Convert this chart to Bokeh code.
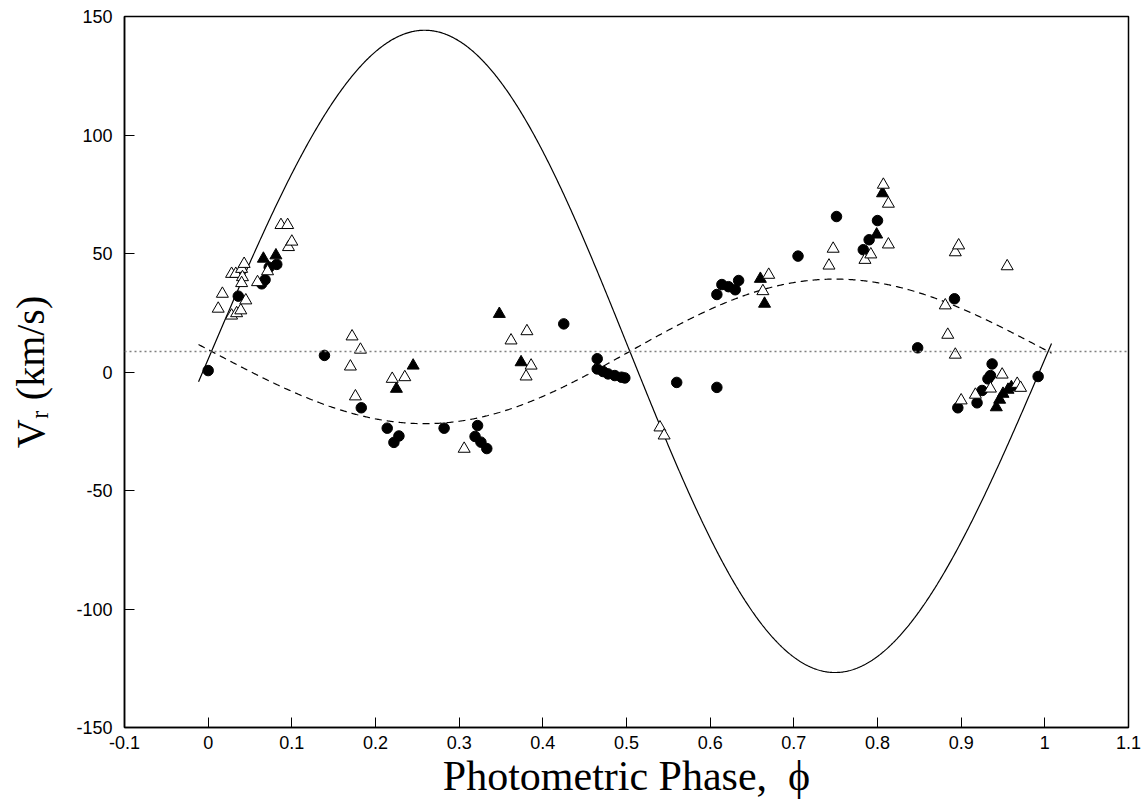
import numpy as np
from bokeh.plotting import figure
from bokeh.models import Range1d, FixedTicker, CustomJSTickFormatter, Span
from bokeh.embed import file_html
from bokeh.resources import INLINE

# ---- data ----
circle_phase = [0.000, 0.036, 0.064, 0.068, 0.073, 0.082, 0.139, 0.183, 0.214, 0.222,
                0.228, 0.282, 0.319, 0.322, 0.326, 0.333, 0.425, 0.465, 0.465, 0.472,
                0.478, 0.486, 0.494, 0.498, 0.560, 0.608, 0.608, 0.614, 0.622, 0.630,
                0.634, 0.705, 0.751, 0.783, 0.790, 0.800, 0.848, 0.892, 0.896, 0.919,
                0.925, 0.932, 0.935, 0.937, 0.992]
circle_vr = [0.6, 32.0, 37.2, 38.9, 44.2, 45.4, 7.0, -15.1, -23.7, -29.7,
             -27.0, -23.7, -27.2, -22.6, -29.6, -32.3, 20.3, 5.6, 1.3, 0.2,
             -0.8, -1.5, -2.2, -2.5, -4.4, -6.5, 32.7, 36.9, 36.0, 34.7,
             38.6, 48.9, 65.6, 51.6, 55.8, 63.9, 10.2, 30.9, -15.1, -13.0,
             -7.8, -2.9, -1.5, 3.4, -1.9]

ftri_phase = [0.066, 0.081, 0.225, 0.245, 0.348, 0.374, 0.660, 0.665, 0.799, 0.806,
              0.942, 0.946, 0.950, 0.956, 0.960]
ftri_vr = [47.8, 49.2, -7.1, 2.7, 24.5, 4.1, 39.3, 28.8, 58.0, 75.4,
           -14.9, -11.7, -9.2, -7.5, -6.4]

otri_phase = [0.012, 0.017, 0.028, 0.034, 0.039, 0.028, 0.033, 0.040, 0.043, 0.041,
              0.040, 0.045, 0.059, 0.071, 0.087, 0.095, 0.096, 0.100, 0.172, 0.170,
              0.182, 0.176, 0.220, 0.235, 0.306, 0.362, 0.381, 0.386, 0.380, 0.540,
              0.545, 0.663, 0.670, 0.742, 0.747, 0.785, 0.792, 0.807, 0.813, 0.813,
              0.881, 0.884, 0.893, 0.893, 0.897, 0.900, 0.917, 0.935, 0.949, 0.955,
              0.967, 0.971]
otri_vr = [26.7, 33.0, 23.8, 24.8, 26.0, 41.4, 41.4, 43.5, 45.6, 40.0,
           37.5, 30.2, 37.9, 42.5, 62.0, 62.0, 52.7, 55.0, 15.0, 2.3,
           9.4, -10.3, -2.9, -2.2, -32.4, 13.3, 17.2, 2.7, -1.9, -23.4,
           -26.8, 34.1, 41.0, 44.9, 52.0, 47.3, 49.6, 79.0, 71.0, 53.8,
           28.1, 15.7, 7.3, 50.5, 53.4, -12.0, -9.6, -7.0, -1.1, 44.6,
           -5.0, -6.7]

# orbital solution drawn in the reference
gamma = 8.7        # systemic velocity (dotted line)
K1 = 135.5         # primary semi-amplitude (solid)
K2 = 30.5          # secondary semi-amplitude (dashed)
ecc = 0.015        # small eccentricity
omega = np.pi / 2  # argument of periastron
phi_peri = 0.504   # phase of periastron
curve_start, curve_end = -0.0115, 1.008

x_ticks = [-0.1, 0.0, 0.1, 0.2, 0.3, 0.4, 0.5, 0.6, 0.7, 0.8, 0.9, 1.0, 1.1]
y_ticks = [-150, -100, -50, 0, 50, 100, 150]
x_title = "Photometric Phase,\u00a0\u00a0\u03d5"
y_title = "V\u1d63 (km/s)"

# ---- figure ----
p = figure(width=1145, height=809, x_range=Range1d(-0.1, 1.1), y_range=Range1d(-150, 150),
           output_backend="svg", toolbar_location=None,
           min_border_left=124, min_border_right=17, min_border_top=16, min_border_bottom=82)
p.xgrid.visible = False
p.ygrid.visible = False
p.background_fill_color = "white"
p.border_fill_color = "white"
p.outline_line_color = "black"
p.outline_line_width = 1.5

for ax in (p.xaxis, p.yaxis):
    ax.major_tick_in = 10
    ax.major_tick_out = 0
    ax.minor_tick_line_color = None
    ax.axis_line_color = "black"
    ax.axis_line_width = 1.5
    ax.major_tick_line_color = "black"
    ax.major_tick_line_width = 1
    ax.major_label_text_font = "Liberation Sans"
    ax.major_label_text_font_size = "18px"
    ax.major_label_text_color = "black"
    ax.axis_label_text_font = "Liberation Serif"
    ax.axis_label_text_font_size = "42px"
    ax.axis_label_text_font_style = "normal"
    ax.axis_label_text_color = "black"

p.yaxis.axis_label_text_font_size = "40px"
p.xaxis.ticker = FixedTicker(ticks=x_ticks)
p.yaxis.ticker = FixedTicker(ticks=y_ticks)
p.xaxis.formatter = CustomJSTickFormatter(code="return (Math.round(tick*10)/10).toString();")
p.yaxis.formatter = CustomJSTickFormatter(code="return Math.round(tick).toString();")
p.xaxis.major_label_standoff = 8
p.yaxis.major_label_standoff = 12
p.xaxis.axis_label = x_title
p.yaxis.axis_label = y_title
p.xaxis.axis_label_standoff = 1
p.yaxis.axis_label_standoff = 20

# systemic velocity
p.add_layout(Span(location=gamma, dimension="width", line_color="#808080",
                  line_dash="2 3", line_width=1.5))

# model curves (Keplerian)
ph = np.linspace(curve_start, curve_end, 1000)
M = 2 * np.pi * (ph - phi_peri)
E = M.copy()
for _ in range(30):
    E = M + ecc * np.sin(E)
nu = 2 * np.arctan2(np.sqrt(1 + ecc) * np.sin(E / 2), np.sqrt(1 - ecc) * np.cos(E / 2))
shape = np.cos(nu + omega) + ecc * np.cos(omega)
p.line(ph, gamma + K1 * shape, line_color="black", line_width=1.2)
p.line(ph, gamma - K2 * shape, line_color="black", line_width=1.2, line_dash="7 5")

# data
p.scatter(circle_phase, circle_vr, marker="circle", size=10.5, fill_color="black", line_color="black")
p.scatter(ftri_phase, ftri_vr, marker="triangle", size=12, fill_color="black", line_color="black")
p.scatter(otri_phase, otri_vr, marker="triangle", size=12, fill_color="white", line_color="black", line_width=1)

open("out.html", "w").write(file_html(p, INLINE))
